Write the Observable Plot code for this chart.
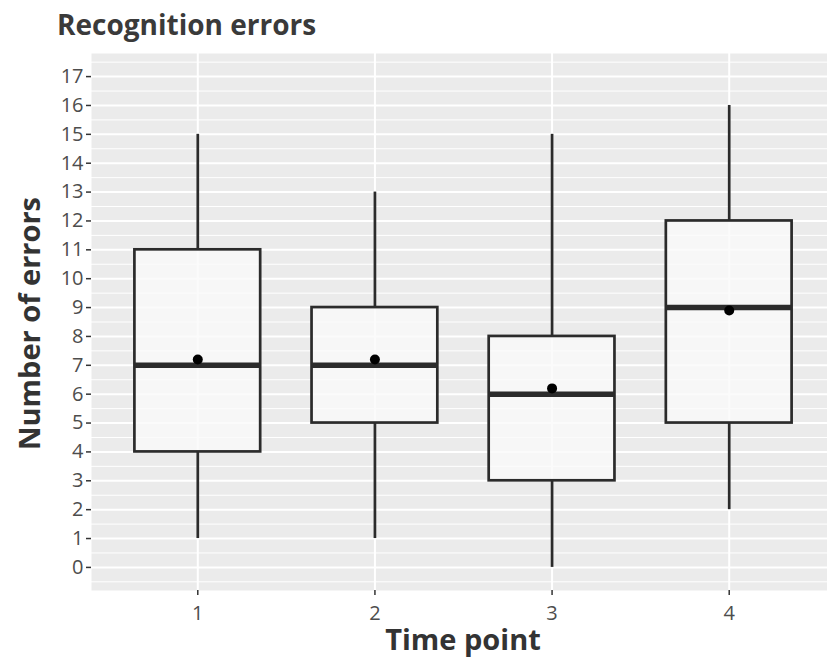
<!DOCTYPE html>
<html>
<head>
<meta charset="utf-8">
<script src="https://cdn.jsdelivr.net/npm/d3@7"></script>
<script src="https://cdn.jsdelivr.net/npm/@observablehq/plot@0.6"></script>
<style>
  html, body { margin: 0; padding: 0; background: #fff; overflow: hidden; width: 827px; height: 657px; }
  #title { height: 45px; box-sizing: border-box; padding-left: 57px; padding-top: 7px;
    font-family: "Open Sans", sans-serif; font-weight: 700; font-size: 28px; color: #3a3a3a; line-height: 34px; white-space: nowrap; }
  #chart svg { display: block; max-width: none !important; }
</style>
</head>
<body>
<div id="title">Recognition errors</div>
<div id="chart"></div>
<script>
const timePoints = [1, 2, 3, 4];
const whiskerLow = [1, 1, 0, 2];
const q1 = [4, 5, 3, 5];
const median = [7, 7, 6, 9];
const q3 = [11, 9, 8, 12];
const whiskerHigh = [15, 13, 15, 16];
const means = [7.2, 7.2, 6.2, 8.9];
const yTicks = d3.range(0, 18);
const yMinor = d3.range(-0.5, 18, 1);

const rows = timePoints.map((t, i) => ({
  t, lo: whiskerLow[i], q1: q1[i], med: median[i], q3: q3[i], hi: whiskerHigh[i], mean: means[i]
}));
const hw = 0.355;

const plot = Plot.plot({
  width: 835,
  height: 612,
  marginLeft: 91,
  marginRight: 0,
  marginTop: 8,
  marginBottom: 67,
  style: { fontFamily: "'Open Sans', sans-serif", background: "transparent", maxWidth: "none" },
  x: { domain: [0.4, 4.6], ticks: timePoints, tickFormat: d => String(d), label: null },
  y: { domain: [-0.8, 17.8], ticks: yTicks, label: null },
  marks: [
    Plot.frame({ fill: "#ebebeb", stroke: null }),
    Plot.ruleY(yMinor, { stroke: "#fff", strokeWidth: 1 }),
    Plot.ruleY(yTicks, { stroke: "#fff", strokeWidth: 2 }),
    Plot.ruleX(timePoints, { stroke: "#fff", strokeWidth: 2 }),
    Plot.ruleX(rows, { x: "t", y1: "lo", y2: "q1", stroke: "#2b2b2b", strokeWidth: 2.7 }),
    Plot.ruleX(rows, { x: "t", y1: "q3", y2: "hi", stroke: "#2b2b2b", strokeWidth: 2.7 }),
    Plot.rect(rows, { x1: d => d.t - hw, x2: d => d.t + hw, y1: "q1", y2: "q3",
      fill: "#fafafa", fillOpacity: 0.8, stroke: "#2b2b2b", strokeWidth: 2.7 }),
    Plot.ruleY(rows, { y: "med", x1: d => d.t - hw, x2: d => d.t + hw, stroke: "#2b2b2b", strokeWidth: 5.5 }),
    Plot.dot(rows, { x: "t", y: "mean", r: 5, fill: "#000", stroke: null }),
    Plot.axisY({ ticks: yTicks, tickSize: 5, tickPadding: 3, stroke: "#333", strokeWidth: 1.5,
      fontSize: 20, fill: "#4d4d4d", label: null }),
    Plot.axisX({ ticks: timePoints, tickSize: 5, tickPadding: 10, stroke: "#333", strokeWidth: 1.5,
      fontSize: 20, fill: "#4d4d4d", label: null, tickFormat: d => String(d) })
  ]
});
document.getElementById("chart").appendChild(plot);

const svg = d3.select(plot);
svg.append("text")
  .attr("transform", `translate(40, ${(8 + 545) / 2 + 2}) rotate(-90)`)
  .attr("text-anchor", "middle")
  .style("font-family", "'Open Sans', sans-serif")
  .style("font-size", "29px")
  .style("font-weight", 700)
  .style("fill", "#333")
  .text("Number of errors");
svg.append("text")
  .attr("x", (91 + 835) / 2)
  .attr("y", 605)
  .attr("text-anchor", "middle")
  .style("font-family", "'Open Sans', sans-serif")
  .style("font-size", "29px")
  .style("font-weight", 700)
  .style("fill", "#333")
  .text("Time point");
</script>
</body>
</html>
